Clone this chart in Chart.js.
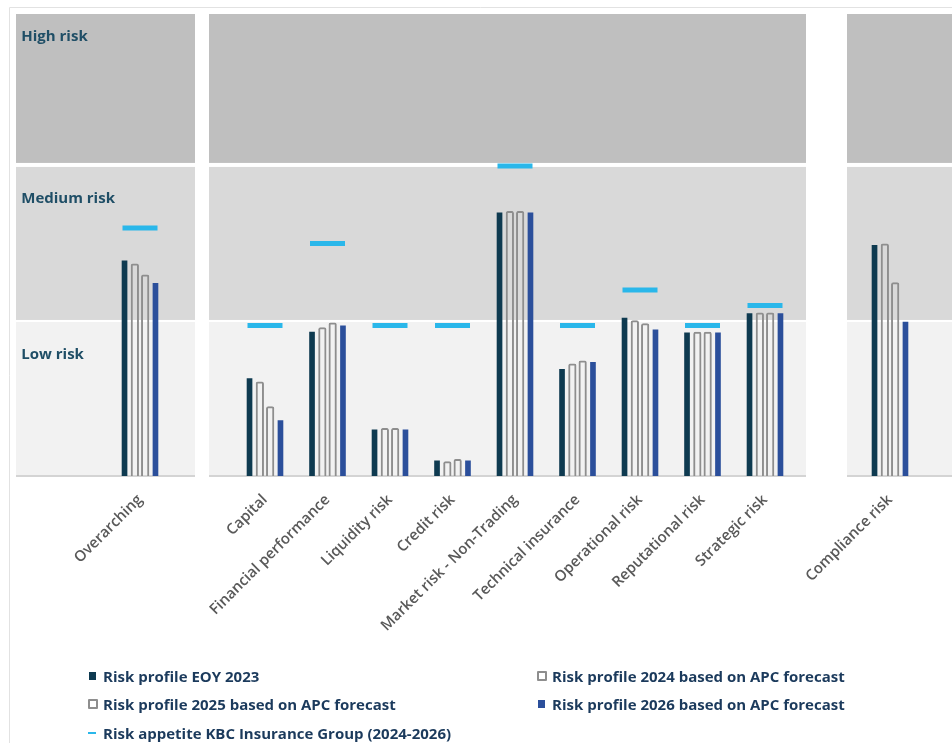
<!DOCTYPE html>
<html><head><meta charset="utf-8">
<script src="https://cdn.jsdelivr.net/npm/chart.js@4.4.1/dist/chart.umd.min.js"></script>
<style>
html,body{margin:0;padding:0;background:#fff;}
#wrap{position:relative;width:952px;height:743px;overflow:hidden;}
canvas{position:absolute;left:0;top:0;}
.lg{position:absolute;font-family:'Open Sans',sans-serif;font-weight:700;font-size:15px;color:#1b3a5c;white-space:nowrap;line-height:18px;}
.mk{position:absolute;box-sizing:border-box;}
</style></head>
<body><div id="wrap"><canvas id="c" width="952" height="743"></canvas><div id="legend"></div></div>
<script>
// ---- data ----
const categories = ['Overarching', '', 'Capital', 'Financial performance', 'Liquidity risk', 'Credit risk',
  'Market risk - Non-Trading', 'Technical insurance', 'Operational risk', 'Reputational risk', 'Strategic risk', '', 'Compliance risk'];
const profile2023 = [1.39, null, 0.63, 0.93, 0.30, 0.10, 1.70, 0.69, 1.02, 0.925, 1.05, null, 1.49];
const profile2024 = [1.37, null, 0.61, 0.96, 0.31, 0.095, 1.71, 0.725, 1.005, 0.93, 1.055, null, 1.50];
const profile2025 = [1.30, null, 0.45, 0.99, 0.31, 0.11, 1.71, 0.745, 0.985, 0.93, 1.055, null, 1.25];
const profile2026 = [1.245, null, 0.36, 0.97, 0.30, 0.10, 1.70, 0.735, 0.945, 0.925, 1.05, null, 0.995];
const riskAppetite = [1.60, null, 0.97, 1.50, 0.97, 0.97, 2.00, 0.97, 1.20, 0.97, 1.10, null, null];
const bandLabels = ['Low risk', 'Medium risk', 'High risk'];
const seriesNames = ['Risk profile EOY 2023', 'Risk profile 2024 based on APC forecast',
  'Risk profile 2025 based on APC forecast', 'Risk profile 2026 based on APC forecast',
  'Risk appetite KBC Insurance Group (2024-2026)'];

// ---- styles ----
const C_2023 = '#0e3a50', C_2026 = '#2b4f9b', C_OUT = '#8e8e8e', C_APP = '#2ab7ea';
const BAND_COLORS = ['#f2f2f2', '#d9d9d9', '#bfbfbf'];

const panelsPlugin = {
  id: 'panels',
  beforeDatasetsDraw(chart) {
    const ctx = chart.ctx, ca = chart.chartArea, x = chart.scales.x, y = chart.scales.y;
    const W = chart.width;
    ctx.save();
    // outer frame
    ctx.strokeStyle = '#e2e2e2'; ctx.lineWidth = 1;
    ctx.beginPath(); ctx.moveTo(9.5, chart.height); ctx.lineTo(9.5, 7.5); ctx.lineTo(W, 7.5); ctx.stroke();
    const panels = [
      [ca.left - 92.75, x.getPixelForValue(1) - 7.5],
      [x.getPixelForValue(1) + 6.5, x.getPixelForValue(11) - 21.5],
      [x.getPixelForValue(11) + 19.5, W + 5]
    ];
    const y0 = y.getPixelForValue(0), y1 = y.getPixelForValue(1), y2 = y.getPixelForValue(2), y3 = ca.top;
    const bands = [[y1 + 1, y0], [y2 + 1, y1 - 1], [y3, y2 - 3]];
    panels.forEach(([a, b]) => {
      bands.forEach(([t, btm], i) => { ctx.fillStyle = BAND_COLORS[i]; ctx.fillRect(a, t, b - a, btm - t); });
      ctx.fillStyle = '#d4d4d4'; ctx.fillRect(a, y0 - 1, b - a, 2);
    });
    // band labels
    ctx.fillStyle = '#1f4e66';
    ctx.font = 'bold 15px "Open Sans", sans-serif';
    ctx.textBaseline = 'middle'; ctx.textAlign = 'left';
    const lx = ca.left - 87.5;
    ctx.fillText(bandLabels[2], lx, y3 + 23);
    ctx.fillText(bandLabels[1], lx, y2 + 33);
    ctx.fillText(bandLabels[0], lx, y1 + 34);
    ctx.restore();
  }
};

const outlined = (data, label) => ({
  label, data, backgroundColor: 'rgba(255,255,255,0)', borderColor: C_OUT, borderWidth: 2,
  borderSkipped: 'bottom', borderRadius: {topLeft: 2, topRight: 2}, barPercentage: 0.8, categoryPercentage: 0.66, order: 1
});
const filled = (data, label, color) => ({
  label, data, backgroundColor: color, borderWidth: 0, barPercentage: 0.55, categoryPercentage: 0.66, order: 1
});

new Chart(document.getElementById('c'), {
  type: 'bar',
  data: {
    labels: categories,
    datasets: [
      filled(profile2023, seriesNames[0], C_2023),
      outlined(profile2024, seriesNames[1]),
      outlined(profile2025, seriesNames[2]),
      filled(profile2026, seriesNames[3], C_2026),
      {
        type: 'line', label: seriesNames[4], data: riskAppetite, showLine: false,
        pointStyle: 'line', pointRadius: 17.5, pointHoverRadius: 17.5, pointBorderWidth: 5,
        pointHoverBorderWidth: 5, borderColor: C_APP, backgroundColor: C_APP, order: 0
      }
    ]
  },
  options: {
    responsive: false, animation: false, devicePixelRatio: 1,
    layout: {autoPadding: false, padding: {left: 108.75, right: 30.75, top: 14, bottom: 0}},
    plugins: {legend: {display: false}, tooltip: {enabled: false}},
    scales: {
      x: {
        grid: {display: false, drawTicks: false}, border: {display: false},
        ticks: {autoSkip: false, maxRotation: 45, minRotation: 45, padding: 15, color: '#595959',
          font: {family: '"Open Sans", sans-serif', size: 15, weight: '600'}},
        afterFit(scale) { scale.height = 267; }
      },
      y: {display: false, min: 0, max: 2.98}
    }
  },
  plugins: [panelsPlugin]
});

// ---- HTML legend ----
const legendItems = [
  {name: seriesNames[0], kind: 'filled', color: C_2023, x: 88, y: 676},
  {name: seriesNames[1], kind: 'outline', x: 537, y: 676},
  {name: seriesNames[2], kind: 'outline', x: 88, y: 704},
  {name: seriesNames[3], kind: 'filled', color: C_2026, x: 537, y: 704},
  {name: seriesNames[4], kind: 'dash', x: 88, y: 733}
];
const lg = document.getElementById('legend');
legendItems.forEach(it => {
  const m = document.createElement('div'); m.className = 'mk';
  if (it.kind === 'filled') { Object.assign(m.style, {left: (it.x + 1) + 'px', top: (it.y - 4) + 'px', width: '7px', height: '8px', background: it.color}); }
  else if (it.kind === 'outline') { Object.assign(m.style, {left: it.x + 'px', top: (it.y - 5) + 'px', width: '10px', height: '10px', border: '2px solid ' + C_OUT, borderRadius: '1px'}); }
  else { Object.assign(m.style, {left: it.x + 'px', top: (it.y - 1) + 'px', width: '8px', height: '2px', background: C_APP}); }
  lg.appendChild(m);
  const t = document.createElement('div'); t.className = 'lg'; t.textContent = it.name;
  Object.assign(t.style, {left: (it.x + 15) + 'px', top: (it.y - 9) + 'px'});
  lg.appendChild(t);
});
</script>
</body></html>
